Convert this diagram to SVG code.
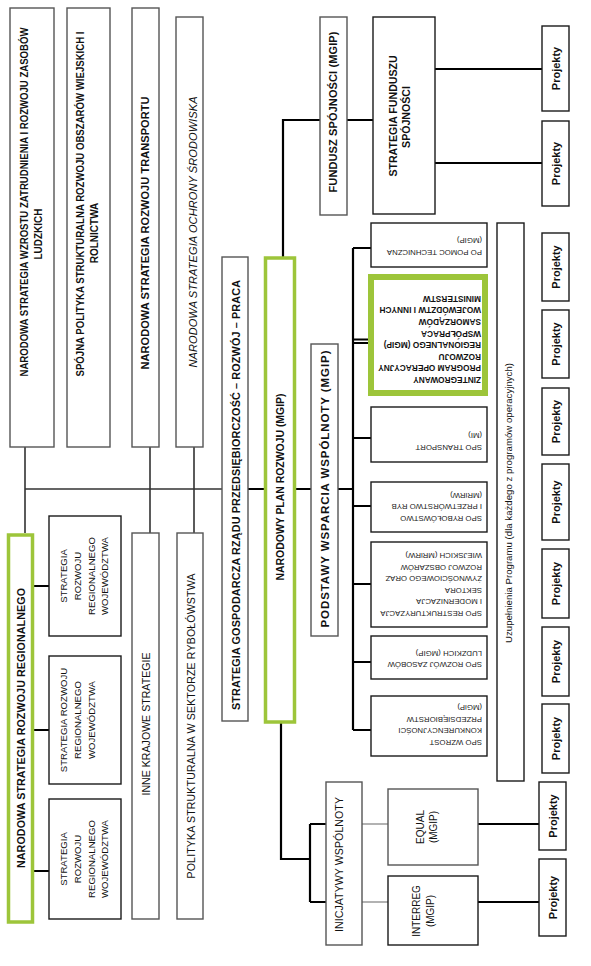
<svg xmlns="http://www.w3.org/2000/svg" width="591" height="966" viewBox="0 0 591 966">
<style>
.bx{fill:#fff;stroke:#555;stroke-width:1.4}
.bk{fill:#fff;stroke:#1a1a1a;stroke-width:1.4}
.gr{fill:#fff;stroke:#9dc53a}
.c{stroke:#000;stroke-width:2.2;fill:none}
.cl{stroke:#333;stroke-width:1.6;fill:none}
.cg{stroke:#999;stroke-width:1.5;fill:none}
text{font-family:"Liberation Sans",Arial,sans-serif;fill:#111}
.b{font-weight:bold}
.m{text-anchor:middle}
.s{font-size:7.8px;fill:#222}
.z{font-size:8.3px;font-weight:bold}
.p{font-size:11px;font-weight:bold;text-anchor:middle}
</style>
<g id="connectors">
<path class="cl" d="M25,447V533M150,447V533M194,447V533M25,489H222"/>
<path class="c" d="M248,489H264M296,489H311M338,489H353"/>
<path class="c" d="M353,248V730M353,248H371M353,438H371M353,506H371M353,584H371M353,662H371M353,730H371"/>
<path class="c" d="M353,339.5H369M353,343H369" stroke-width="1.6"/>
<path class="c" d="M283,257V120H320M347,120H373M435,69H542M435,163H542"/>
<path class="c" d="M33,586H49M33,730H49M33,871H49"/>
<path class="c" d="M281,722V859H310M310,824V902M310,824H326M310,902H326"/>
<path class="cg" d="M362,824H388M362,902H388"/>
<path class="c" d="M478,824H540M478,902H540"/>
</g>
<g id="n1"><rect class="bx" x="10" y="8" width="44" height="439"/>
<text class="b m" font-size="10" transform="translate(27.5,202) rotate(-90)" textLength="349" lengthAdjust="spacingAndGlyphs">NARODOWA STRATEGIA WZROSTU ZATRUDNIENIA I ROZWOJU ZASOBÓW</text>
<text class="b m" font-size="10" transform="translate(42,234) rotate(-90)">LUDZKICH</text></g>
<g id="n2"><rect class="bx" x="67" y="8" width="43" height="439"/>
<text class="b m" font-size="10" transform="translate(83.5,204) rotate(-90)" textLength="345" lengthAdjust="spacingAndGlyphs">SPÓJNA POLITYKA STRUKTURALNA ROZWOJU OBSZARÓW WIEJSKICH I</text>
<text class="b m" font-size="10" transform="translate(97.5,233) rotate(-90)">ROLNICTWA</text></g>
<g id="n3"><rect class="bx" x="132" y="8" width="27" height="439"/>
<text class="b m" font-size="11" transform="translate(148.5,233) rotate(-90)" textLength="273">NARODOWA STRATEGIA ROZWOJU TRANSPORTU</text></g>
<g id="n4"><rect class="bx" x="176" y="17" width="27" height="430"/>
<text class="m" font-size="11" font-style="italic" fill="#222" transform="translate(197,232) rotate(-90)" textLength="271">NARODOWA STRATEGIA OCHRONY ŚRODOWISKA</text></g>
<g id="nsrr"><rect class="gr" x="8.5" y="535" width="24" height="387" stroke-width="3.5"/>
<text class="b m" font-size="10.7" transform="translate(24.5,728) rotate(-90)" textLength="280">NARODOWA STRATEGIA ROZWOJU REGIONALNEGO</text></g>
<g id="srw1"><rect class="bk" x="49" y="516" width="72" height="120"/>
<g class="m" font-size="9.6"><text transform="translate(67,576) rotate(-90)">STRATEGIA</text><text transform="translate(81,576) rotate(-90)">ROZWOJU</text><text transform="translate(94.5,576) rotate(-90)">REGIONALNEGO</text><text transform="translate(108,576) rotate(-90)">WOJEWÓDZTWA</text></g></g>
<g id="srw2"><rect class="bk" x="49" y="656" width="72" height="128"/>
<g class="m" font-size="9.6"><text transform="translate(67,720) rotate(-90)">STRATEGIA ROZWOJU</text><text transform="translate(81,720) rotate(-90)">REGIONALNEGO</text><text transform="translate(94.5,720) rotate(-90)">WOJEWÓDZTWA</text></g></g>
<g id="srw3"><rect class="bk" x="49" y="799" width="72" height="120"/>
<g class="m" font-size="9.6"><text transform="translate(67,859) rotate(-90)">STRATEGIA</text><text transform="translate(81,859) rotate(-90)">ROZWOJU</text><text transform="translate(94.5,859) rotate(-90)">REGIONALNEGO</text><text transform="translate(108,859) rotate(-90)">WOJEWÓDZTWA</text></g></g>
<g id="inne"><rect class="bx" x="132" y="533" width="27" height="386"/>
<text class="m" font-size="10.6" transform="translate(149.5,724) rotate(-90)" textLength="143">INNE KRAJOWE STRATEGIE</text></g>
<g id="polityka"><rect class="bx" x="177" y="533" width="26" height="386"/>
<text class="m" font-size="10.6" transform="translate(194.5,726) rotate(-90)" textLength="305">POLITYKA STRUKTURALNA W SEKTORZE RYBOŁÓWSTWA</text></g>
<g id="sg"><rect class="bx" x="222" y="257" width="26" height="464"/>
<text class="b m" font-size="10.8" transform="translate(240,495) rotate(-90)" textLength="430">STRATEGIA GOSPODARCZA RZĄDU PRZEDSIĘBIORCZOŚĆ – ROZWÓJ – PRACA</text></g>
<g id="npr"><rect class="gr" x="265.5" y="258" width="29" height="464" stroke-width="3.5"/>
<text class="b m" font-size="10.5" transform="translate(284,487) rotate(-90)" textLength="187">NARODOWY PLAN ROZWOJU (MGIP)</text></g>
<g id="podstawy"><rect class="bx" x="311" y="344" width="27" height="292"/>
<text class="b m" font-size="11.5" transform="translate(329,489) rotate(-90)" textLength="277">PODSTAWY WSPARCIA  WSPÓLNOTY (MGIP)</text></g>
<g id="fundusz"><rect class="bx" x="320" y="17" width="27" height="198"/>
<text class="b m" font-size="11" transform="translate(337,112) rotate(-90)" textLength="161">FUNDUSZ SPÓJNOŚCI (MGIP)</text></g>
<g id="sfs"><rect class="bk" x="373" y="17" width="62" height="197"/>
<text class="b m" font-size="10.6" transform="translate(397,116) rotate(-90)">STRATEGIA FUNDUSZU</text>
<text class="b m" font-size="10.6" transform="translate(409.5,117) rotate(-90)">SPÓJNOŚCI</text></g>
<g id="pt1"><rect class="bk" x="542" y="26" width="27" height="85"/><text class="p" transform="translate(559.5,68.5) rotate(-90)">Projekty</text></g>
<g id="pt2"><rect class="bk" x="542" y="121" width="27" height="85"/><text class="p" transform="translate(559.5,163.5) rotate(-90)">Projekty</text></g>
<g id="popt"><rect class="bk" x="371" y="223" width="116" height="44"/>
<text class="s" transform="translate(482,249.5) rotate(180)">PO POMOC TECHNICZNA</text>
<text class="s" transform="translate(482,238) rotate(180)">(MGIP)</text></g>
<g id="zporr"><rect class="gr" x="371" y="277" width="114" height="116" stroke-width="6"/>
<g class="z"><text transform="translate(481,377) rotate(180)">ZINTEGROWANY</text>
<text transform="translate(481,365.4) rotate(180)">PROGRAM OPERACYJNY</text>
<text transform="translate(481,353.8) rotate(180)">ROZWOJU</text>
<text transform="translate(481,342.2) rotate(180)">REGIONALNEGO (MGIP)</text>
<text transform="translate(481,330.6) rotate(180)">WSPÓŁPRACA</text>
<text transform="translate(481,319) rotate(180)">SAMORZĄDÓW</text>
<text transform="translate(481,307.4) rotate(180)">WOJEWÓDZTW I INNYCH</text>
<text transform="translate(481,295.8) rotate(180)">MINISTERSTW</text></g></g>
<g id="spot"><rect class="bk" x="371" y="407" width="116" height="55"/>
<text class="s" transform="translate(482,444.5) rotate(180)">SPO TRANSPORT</text>
<text class="s" transform="translate(482,433) rotate(180)">(MI)</text></g>
<g id="spor"><rect class="bk" x="371" y="482" width="116" height="50"/>
<text class="s" transform="translate(482,515.5) rotate(180)">SPO RYBOŁÓWSTWO</text>
<text class="s" transform="translate(482,504) rotate(180)">I PRZETWÓRSTWO RYB</text>
<text class="s" transform="translate(482,492.5) rotate(180)">(MRiRW)</text></g>
<g id="sporol"><rect class="bk" x="371" y="542" width="116" height="85"/>
<text class="s" transform="translate(482,610.5) rotate(180)">SPO RESTRUKTURYZACJA</text>
<text class="s" transform="translate(482,599) rotate(180)">I MODERNIZACJA</text>
<text class="s" transform="translate(482,587.5) rotate(180)">SEKTORA</text>
<text class="s" transform="translate(482,576) rotate(180)">ŻYWNOŚCIOWEGO ORAZ</text>
<text class="s" transform="translate(482,564.5) rotate(180)">ROZWOJ OBSZARÓW</text>
<text class="s" transform="translate(482,553) rotate(180)">WIEJSKICH (MRiRW)</text></g>
<g id="sporzl"><rect class="bk" x="371" y="636" width="116" height="43"/>
<text class="s" transform="translate(482,662) rotate(180)">SPO ROZWÓJ ZASOBÓW</text>
<text class="s" transform="translate(482,650.5) rotate(180)">LUDZKICH (MGIP)</text></g>
<g id="spowkp"><rect class="bk" x="371" y="696" width="116" height="60"/>
<text class="s" transform="translate(482,739.5) rotate(180)">SPO WZROST</text>
<text class="s" transform="translate(482,728) rotate(180)">KONKURENCYJNOŚCI</text>
<text class="s" transform="translate(482,716.5) rotate(180)">PRZEDSIĘBIORSTW</text>
<text class="s" transform="translate(482,705) rotate(180)">(MGiP)</text></g>
<g id="uzup"><rect class="bk" x="497" y="223" width="27" height="558"/>
<text class="m" font-size="9.6" fill="#333" transform="translate(512,503) rotate(-90)" textLength="280">Uzupełnienia Programu (dla każdego z programów operacyjnych)</text></g>
<g id="pj1"><rect class="bk" x="542" y="233" width="27" height="68"/><text class="p" transform="translate(559.5,267) rotate(-90)">Projekty</text></g>
<g id="pj2"><rect class="bk" x="542" y="310" width="27" height="68"/><text class="p" transform="translate(559.5,344) rotate(-90)">Projekty</text></g>
<g id="pj3"><rect class="bk" x="542" y="388" width="27" height="67"/><text class="p" transform="translate(559.5,421.5) rotate(-90)">Projekty</text></g>
<g id="pj4"><rect class="bk" x="542" y="464" width="27" height="76"/><text class="p" transform="translate(559.5,502) rotate(-90)">Projekty</text></g>
<g id="pj5"><rect class="bk" x="542" y="549" width="27" height="69"/><text class="p" transform="translate(559.5,583.5) rotate(-90)">Projekty</text></g>
<g id="pj6"><rect class="bk" x="542" y="627" width="27" height="69"/><text class="p" transform="translate(559.5,661.5) rotate(-90)">Projekty</text></g>
<g id="pj7"><rect class="bk" x="542" y="704" width="27" height="69"/><text class="p" transform="translate(559.5,738.5) rotate(-90)">Projekty</text></g>
<g id="iw"><rect class="bx" x="326" y="782" width="36" height="163"/>
<text class="m" font-size="10.6" transform="translate(343,864.5) rotate(-90)" textLength="135">INICJATYWY WSPÓLNOTY</text></g>
<g id="equal"><rect class="bx" x="388" y="789" width="90" height="76"/>
<text class="m" font-size="10" transform="translate(423.5,827) rotate(-90)">EQUAL</text>
<text class="m" font-size="10" transform="translate(437,827) rotate(-90)">(MGIP)</text></g>
<g id="interreg"><rect class="bk" x="388" y="876" width="90" height="69"/>
<text class="m" font-size="10" transform="translate(420,911) rotate(-90)">INTERREG</text>
<text class="m" font-size="10" transform="translate(434,911) rotate(-90)">(MGIP)</text></g>
<g id="pe"><rect class="bk" x="539" y="782" width="27" height="68"/><text class="p" transform="translate(556.5,816) rotate(-90)">Projekty</text></g>
<g id="pi"><rect class="bk" x="539" y="859" width="27" height="77"/><text class="p" transform="translate(556.5,897.5) rotate(-90)">Projekty</text></g>
</svg>
